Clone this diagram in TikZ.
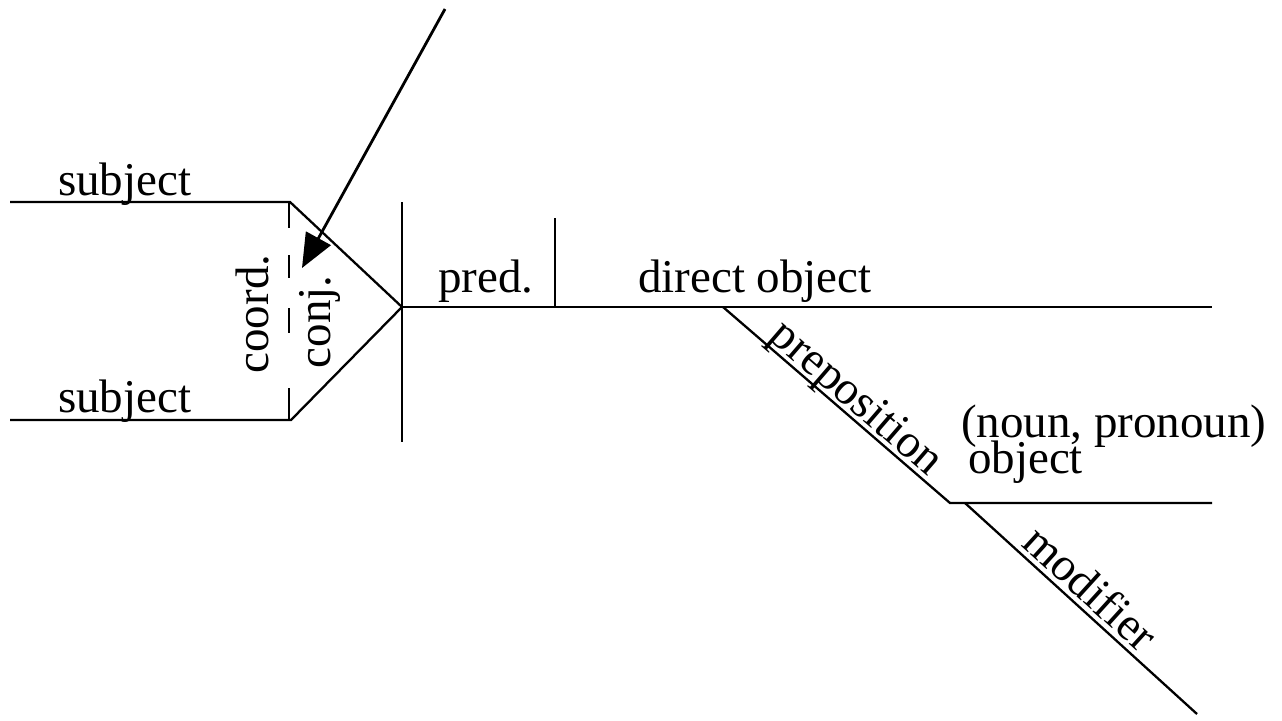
\documentclass[tikz,border=0pt]{standalone}
\usepackage{fontspec}
\setmainfont{Liberation Serif}
\usetikzlibrary{arrows.meta}
\begin{document}
\begin{tikzpicture}[x=1pt,y=-1pt, line width=2.3pt,
  lbl/.style={inner sep=0pt, font=\fontsize{47}{56}\selectfont},
  arrowline/.style={line width=2.8pt, -{Triangle[length=34pt,width=28pt]}},
  ]
\useasboundingbox (0,0) rectangle (1282,720);
% coordinates
\coordinate (s1l) at (10,202);
\coordinate (s1r) at (290,202);
\coordinate (s2l) at (10,420);
\coordinate (s2r) at (291,420);
\coordinate (apex) at (402,307);
\coordinate (vtop) at (402,202);
\coordinate (vbot) at (402,442);
\coordinate (pend) at (1212,307);
\coordinate (dtop) at (555,218);
\coordinate (dbot) at (555,307);
\coordinate (pstart) at (723,307);
\coordinate (pobj) at (950,503);
\coordinate (oend) at (1212,503);
\coordinate (mstart) at (965,503);
\coordinate (mend) at (1197,714);
\coordinate (atail) at (445,9);
\coordinate (ahead) at (302,268);
\coordinate (pa) at (726.3,303.2);
\coordinate (pb) at (953.3,499.2);
\coordinate (ma) at (969,498.5);
\coordinate (mb) at (1201,709.5);
% dashed divider segments
\coordinate (d1a) at (289,202); \coordinate (d1b) at (289,228);
\coordinate (d2a) at (289,255); \coordinate (d2b) at (289,278);
\coordinate (d3a) at (289,308); \coordinate (d3b) at (289,333);
\coordinate (d4a) at (289,388); \coordinate (d4b) at (289,420);

% lines
\draw (s1l) -- (s1r) -- (apex);
\draw (s2l) -- (s2r) -- (apex);
\draw (vtop) -- (vbot);
\draw (apex) -- (pend);
\draw (dtop) -- (dbot);
\draw (pstart) -- (pobj) -- (oend);
\draw (mstart) -- (mend);
\draw (d1a) -- (d1b);
\draw (d2a) -- (d2b);
\draw (d3a) -- (d3b);
\draw (d4a) -- (d4b);
\draw[arrowline] (atail) -- (ahead);

% labels
\node[lbl, anchor=base west] (subj1) at (57,195) {subject};
\node[lbl, anchor=base west] (subj2) at (57,412) {subject};
\node[lbl, anchor=base west] (pred) at (437,292) {pred.};
\node[lbl, anchor=base west] (dobj) at (637,292) {direct object};
\node[lbl, anchor=base west] (nounpro) at (960,437) {(noun, pronoun)};
\node[lbl, anchor=base west] (obj) at (967,473) {object};
\node[lbl, anchor=base, rotate=90] (coord) at (268,314) {coord.};
\node[lbl, anchor=base, rotate=90] (conj) at (330,322) {conj.};
\path (pa) -- (pb) node[lbl, pos=0.535, sloped, anchor=base] (prep) {preposition};
\path (ma) -- (mb) node[lbl, pos=0.48, sloped, anchor=base] (modif) {modifier};
\end{tikzpicture}
\end{document}
